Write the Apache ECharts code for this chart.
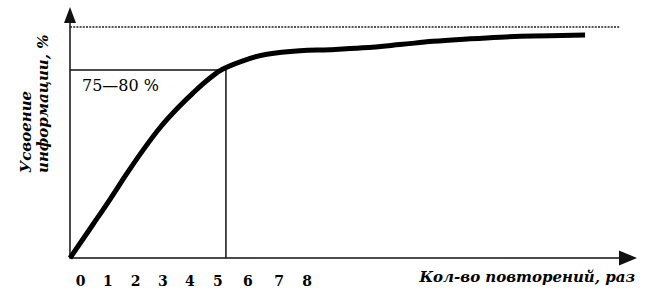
<!DOCTYPE html>
<html>
<head>
<meta charset="utf-8">
<script src="https://cdn.jsdelivr.net/npm/echarts@6/dist/echarts.min.js"></script>
<style>
html,body{margin:0;padding:0;background:#fff;}
#chart{width:653px;height:301px;}
</style>
</head>
<body>
<div id="chart"></div>
<script>
// Data (x: repetitions scale, y: % of information retained)
const curveX = [0, 0.84, 1.45, 2.07, 2.65, 3.27, 3.89, 4.47, 5.09, 5.56, 6.55, 7.16, 8.36, 9.45, 10.65, 12.0, 13.2, 14.44, 15.64, 16.84, 18.73];
const curveY = [0, 14.6, 25.3, 36.6, 46.6, 56.4, 64.6, 71.4, 77.9, 81.8, 86.4, 88.2, 89.7, 90.2, 91.0, 92.4, 93.8, 94.8, 95.6, 96.1, 96.5];
const guideX = [0, 5.67, 5.67];
const guideY = [81.4, 81.4, 0];
const limitX = [0, 20.0];
const limitY = [100, 100];
const xTickPos = [0.39, 1.38, 2.39, 3.38, 4.36, 5.38, 6.47, 7.60, 8.62];
const xTickLabels = ['0', '1', '2', '3', '4', '5', '6', '7', '8'];
const levelLabel = '75—80 %';
const xName = 'Кол-во повторений, раз';
const yName = 'Усвоение\nинформации, %';

const zip = (a, b) => a.map((v, i) => [v, b[i]]);
const chart = echarts.init(document.getElementById('chart'), null, {renderer: 'svg'});
const serif = '"DejaVu Serif", "Liberation Serif", serif';

chart.setOption({
  animation: false,
  backgroundColor: '#fff',
  grid: {left: 70, right: 25, top: 15, bottom: 43, containLabel: false},
  xAxis: {
    type: 'value', min: 0, max: 20.29,
    axisLine: {show: true, symbol: ['none', 'triangle'], symbolSize: [15, 18],
      lineStyle: {color: '#111', width: 1.5}},
    axisTick: {show: false},
    splitLine: {show: false},
    axisLabel: {
      show: true, customValues: xTickPos, margin: 16,
      color: '#000', fontFamily: serif, fontWeight: 'bold', fontSize: 14,
      formatter: function (v) {
        let best = 0, d = Infinity;
        xTickPos.forEach((p, i) => { if (Math.abs(p - v) < d) { d = Math.abs(p - v); best = i; } });
        return xTickLabels[best];
      }
    }
  },
  yAxis: {
    type: 'value', min: 0, max: 105.2,
    axisLine: {show: true, symbol: ['none', 'triangle'], symbolSize: [12, 16],
      lineStyle: {color: '#111', width: 1.5}},
    axisTick: {show: false},
    splitLine: {show: false},
    axisLabel: {show: false}
  },
  graphic: [
    {type: 'text', left: 82, top: 77, style: {text: levelLabel, font: '16px ' + serif, fill: '#000'}},
    {type: 'text', x: 635, y: 277, style: {text: xName, font: 'italic bold 15px ' + serif, fill: '#000', textAlign: 'right', textVerticalAlign: 'middle'}},
    {type: 'text', x: 34, y: 173, rotation: Math.PI / 2, style: {text: yName, font: 'italic bold 15px ' + serif, fill: '#000', textAlign: 'left', textVerticalAlign: 'middle', lineHeight: 17}}
  ],
  series: [
    {type: 'line', data: zip(limitX, limitY), symbol: 'none', silent: true,
      lineStyle: {color: '#222', width: 1.5, type: [2, 1.2]}},
    {type: 'line', data: zip(guideX, guideY), symbol: 'none', silent: true,
      lineStyle: {color: '#111', width: 1.5}},
    {type: 'line', data: zip(curveX, curveY), symbol: 'none', smooth: 0.4, silent: true,
      lineStyle: {color: '#000', width: 5, cap: 'butt', join: 'round'}}
  ]
});
</script>
</body>
</html>
